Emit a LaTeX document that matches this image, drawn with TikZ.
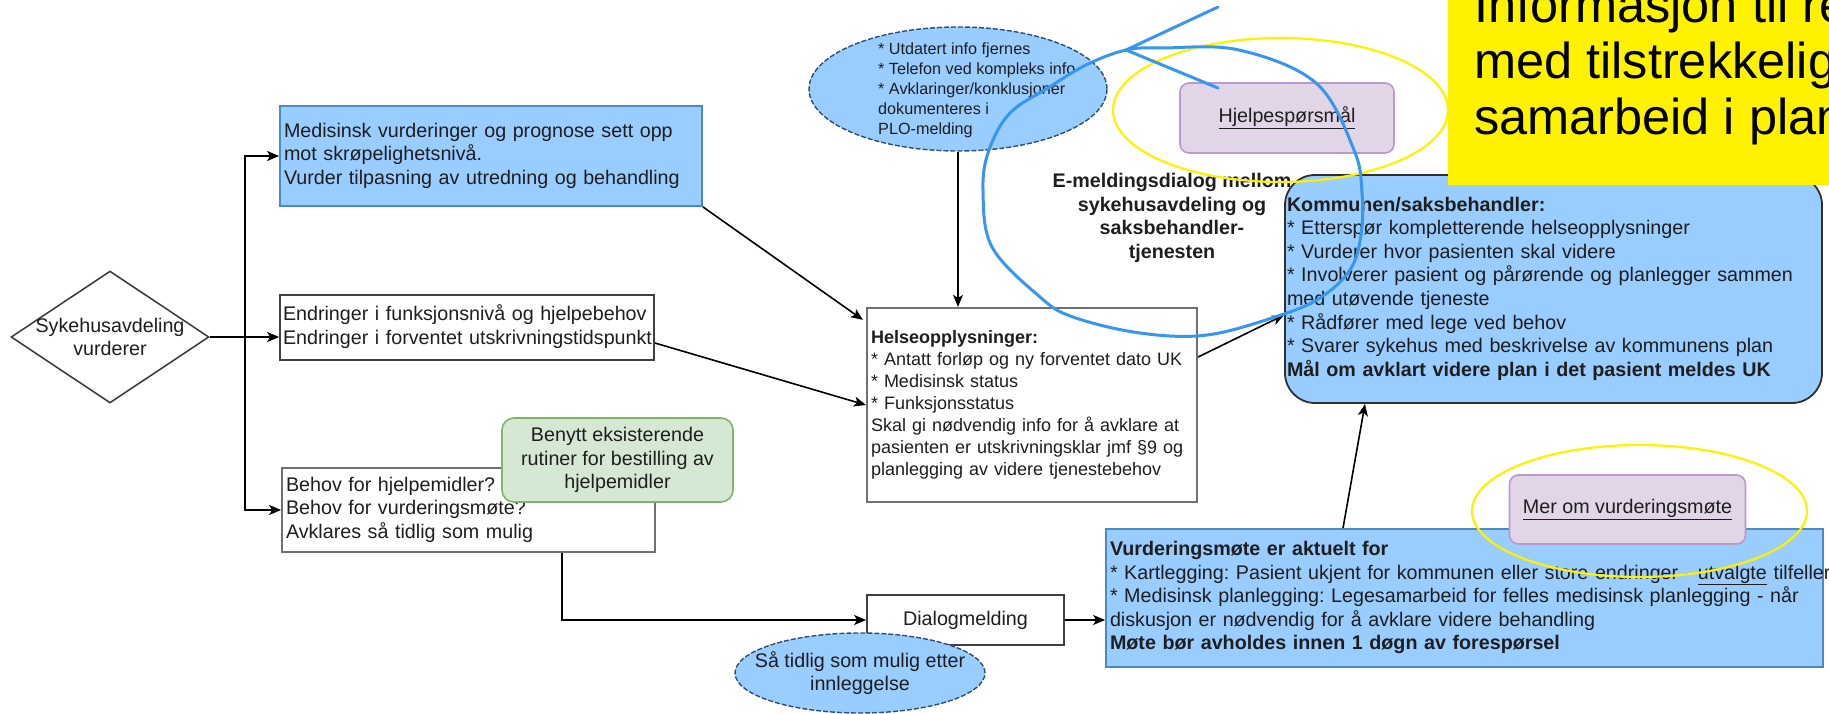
\documentclass[tikz,border=0pt]{standalone}
\usepackage{fontspec}
\setmainfont{Liberation Sans}
\usetikzlibrary{shapes.geometric,arrows.meta}
\newcommand{\lefttab}[1]{\begin{tabular}{@{}l@{}}#1\end{tabular}}
\definecolor{lblue}{HTML}{99CCFF}
\definecolor{bborder}{HTML}{4A8AC9}
\definecolor{ellb}{HTML}{2B4F7A}
\definecolor{gfill}{HTML}{D5E8D4}
\definecolor{gdraw}{HTML}{82B366}
\definecolor{pfill}{HTML}{E1D5E7}
\definecolor{pdraw}{HTML}{B99BCB}
\definecolor{annblue}{HTML}{3797F0}
\definecolor{txt}{HTML}{1E1E1E}
\definecolor{bdark}{HTML}{404040}
\definecolor{hgray}{HTML}{707070}
\definecolor{kdraw}{HTML}{2F2F2F}
\frenchspacing
\begin{document}
\begin{tikzpicture}[x=1pt,y=-1pt,
  fnt/.style={font=\fontsize{19.7}{23.6}\selectfont, text=txt},
  fntb/.style={font=\fontsize{19.7}{23.6}\selectfont\bfseries, text=txt},
  fnth/.style={font=\fontsize{18}{22}\selectfont, text=txt},
  fnts/.style={font=\fontsize{16.2}{20}\selectfont, text=txt},
  sbox/.style={rectangle, line width=1.8pt, inner xsep=4pt, inner ysep=0pt, align=left},
  plainbox/.style={sbox, fnt, draw=bdark, fill=white},
  bluebox/.style={sbox, fnt, draw=bborder, fill=lblue},
  purplebox/.style={rectangle, rounded corners=9pt, draw=pdraw, fill=pfill, line width=1.6pt, fnt, align=center},
  bubble/.style={ellipse, draw=ellb, fill=lblue, line width=1.4pt, dash pattern=on 5pt off 2pt, inner sep=0pt},
  conn/.style={-{Stealth[length=12pt,width=10pt,inset=3pt]}, line width=1.6pt, draw=black},
  annot/.style={draw=annblue, line width=3pt, line cap=round, line join=round},
  hl/.style={draw=yellow, line width=2.2pt}
]
\useasboundingbox (0,0) rectangle (1829,714);
\clip (0,0) rectangle (1829,714);

% decision
\node[diamond, draw=bdark, fill=white, line width=1.6pt, minimum width=198pt, minimum height=132pt, inner sep=0pt] (dia) at (110,337) {};
\node[fnt, align=center, inner sep=0pt] (diat) at (dia.center) {Sykehusavdeling\\vurderer};

% left column boxes
\node[bluebox, minimum width=422pt, minimum height=100pt, text width=414pt] (top) at (491,156)
  {\lefttab{Medisinsk vurderinger og prognose sett opp\\mot skrøpelighetsnivå.\\Vurder tilpasning av utredning og behandling}};
\node[plainbox, inner xsep=3pt, minimum width=374pt, minimum height=65pt, text width=368pt] (mid) at (467,327.5)
  {\lefttab{Endringer i funksjonsnivå og hjelpebehov\\Endringer i forventet utskrivningstidspunkt}};
\node[plainbox, draw=hgray, minimum width=373pt, minimum height=84pt, text width=365pt] (bot) at (468.5,510)
  {\lefttab{Behov for hjelpemidler?\\Behov for vurderingsmøte?\\Avklares så tidlig som mulig}};
\node[rectangle, rounded corners=12pt, draw=gdraw, fill=gfill, line width=1.6pt, fnt, align=center,
  minimum width=231pt, minimum height=84pt, inner sep=0pt] (green) at (617.5,460)
  {Benytt eksisterende\\rutiner for bestilling av\\hjelpemidler};

% centre
\node[bubble, minimum width=298pt, minimum height=124pt] (e1) at (958,89) {};
\node[fnts, anchor=west, align=left, inner sep=0pt] (e1t) at (878,90)
  {{*} Utdatert info fjernes\\{*} Telefon ved kompleks info\\{*} Avklaringer/konklusjoner\\dokumenteres i\\PLO-melding};
\node[plainbox, draw=hgray, fnth, line width=2.2pt, minimum width=330pt, minimum height=194pt, text width=322pt] (helse) at (1032,405)
  {\lefttab{\bfseries Helseopplysninger:\\{*} Antatt forløp og ny forventet dato UK\\{*} Medisinsk status\\{*} Funksjonsstatus\\Skal gi nødvendig info for å avklare at\\pasienten er utskrivningsklar jmf §9 og\\planlegging av videre tjenestebehov}};
\node[plainbox, minimum width=197pt, minimum height=50pt, align=center] (dlg) at (965.5,620) {Dialogmelding};
\node[bubble, minimum width=250pt, minimum height=80pt] (e2) at (860,673) {};
\node[fnt, align=center, inner sep=0pt] (e2t) at (e2.center) {Så tidlig som mulig etter\\innleggelse};

% right side
\node[rectangle, rounded corners=30pt, draw=kdraw, fill=lblue, line width=1.8pt, fnt, align=left,
  inner xsep=2pt, inner ysep=0pt, minimum width=537pt, minimum height=228pt, text width=533pt] (komm) at (1553.5,289)
  {\lefttab{\bfseries Kommunen/saksbehandler:\\{*} Etterspør kompletterende helseopplysninger\\{*} Vurderer hvor pasienten skal videre\\{*} Involverer pasient og pårørende og planlegger sammen\\med utøvende tjeneste\\{*} Rådfører med lege ved behov\\{*} Svarer sykehus med beskrivelse av kommunens plan\\\bfseries Mål om avklart videre plan i det pasient meldes UK}};
\node[fntb, align=center, inner sep=0pt] (emd) at (1172,218)
  {E-meldingsdialog mellom\\sykehusavdeling og\\saksbehandler-\\tjenesten};
\node[purplebox, minimum width=214pt, minimum height=70pt] (hjelp) at (1287,118) {\underline{Hjelpespørsmål}};
\node[bluebox, minimum width=717pt, minimum height=138pt, text width=709pt] (vm) at (1464.5,598)
  {\lefttab{\bfseries Vurderingsmøte er aktuelt for\\{*} Kartlegging: Pasient ukjent for kommunen eller store endringer - \underline{utvalgte} tilfeller\\{*} Medisinsk planlegging: Legesamarbeid for felles medisinsk planlegging - når\\diskusjon er nødvendig for å avklare videre behandling\\\bfseries Møte bør avholdes innen 1 døgn av forespørsel}};
\node[purplebox, minimum width=236pt, minimum height=69pt] (merom) at (1627.5,509.5) {\underline{Mer om vurderingsmøte}};

% connectors
\coordinate (jn) at (245,337);
\draw[conn] (dia.east) -- (mid.west |- dia.east);
\draw[conn] (jn) |- (top.west);
\draw[conn] (jn) |- (bot.west);
\draw[conn] (top.south east) -- ([xshift=-3pt,yshift=-13pt]helse.north west);
\draw[conn] ([yshift=-15.5pt]mid.east) -- (helse.west);
\draw[conn] (e1.south) -- (e1.south |- helse.north);
\draw[conn] ([yshift=48pt]helse.east) -- ([yshift=-26pt]komm.west);
\draw[conn] ([xshift=93.5pt]bot.south) |- (dlg.west);
\draw[conn] (dlg.east) -- (dlg.east -| vm.west);
\draw[conn] ([xshift=-121.5pt]vm.north) -- ([xshift=-188.5pt]komm.south);

% highlights
\draw[hl] (1280.5,110) ellipse [x radius=167.5pt, y radius=72pt];
\draw[hl] (1639.5,511) ellipse [x radius=167.5pt, y radius=66pt];
\fill[yellow] (1448,0) rectangle (1829,185);
\node[font=\fontsize{50.5}{56}\selectfont, text=black, anchor=north west, inner sep=0pt] (info) at (1474,-17.2)
  {\lefttab{Informasjon til re\\med tilstrekkelig\\samarbeid i plan}};

% hand-drawn annotation
\draw[annot] plot[smooth cycle, tension=0.6] coordinates {(1126,50) (1163,48) (1239,50) (1316,83) (1354,150) (1362,193) (1361,235) (1350,270) (1320,298) (1278,316) (1207,335) (1140,333) (1073,317) (1040,297) (992,247) (983,190) (989,150) (1010,113) (1048,88) (1086,65)};
\draw[annot] (1218,7) -- (1126,50) -- (1218,88);
\end{tikzpicture}
\end{document}
